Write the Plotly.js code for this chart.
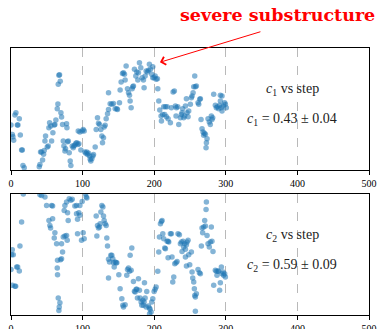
<!DOCTYPE html>
<html>
<head>
<meta charset="utf-8">
<script src="https://cdn.plot.ly/plotly-3.0.1.min.js"></script>
<style>html,body{margin:0;padding:0;background:#fff;}#chart{width:380px;height:329px;}</style>
</head>
<body>
<div id="chart"></div>
<script>
// c1 vs step (top panel), values on a normalised vertical scale
const c1Steps = [0,1.8,2.7,3.7,5.5,6.9,8.8,9.7,11.6,13.0,14.8,15.8,16.7,18.5,39.5,40.4,41.3,42.7,44.1,45.5,46.4,47.4,48.3,50.6,52.0,52.9,53.9,55.7,56.7,58.5,60.4,61.3,62.7,64.6,65.5,66.0,66.9,67.8,68.8,69.7,70.6,72.0,73.0,73.9,75.3,76.2,77.6,78.1,79.0,80.0,81.3,82.7,83.6,85.5,86.9,87.8,89.2,90.6,92.0,93.4,94.8,93.9,96.2,97.6,99.4,100.8,102.2,103.2,104.6,
105.9,106.9,108.3,109.7,110.6,111.5,112.9,114.3,115.2,117.6,119.0,120.8,122.2,123.6,125.5,126.9,127.8,129.2,130.1,131.5,132.9,134.8,136.2,136.2,138.5,140.8,143.1,145.5,147.8,148.7,151.5,152.4,153.8,155.7,157.1,158.5,159.4,160.8,162.7,164.1,165.5,166.4,167.8,169.2,170.1,171.0,172.4,174.3,175.7,177.1,178.0,179.4,181.3,183.1,185.0,185.9,187.3,188.7,190.6,192.0,193.3,194.7,196.6,198.0,199.9,201.3,202.7,204.5,
198.0,205.0,206.4,207.8,209.6,210.1,211.9,213.3,215.7,218.0,214.7,217.1,219.4,222.6,224.0,226.4,228.2,229.6,231.0,232.9,230.5,234.3,236.6,238.0,238.9,239.8,241.2,242.6,243.6,245.0,245.9,247.3,248.2,250.5,251.9,252.9,254.3,255.2,256.6,257.5,258.9,261.2,262.2,263.6,264.5,265.4,266.8,268.2,269.1,270.1,271.5,272.9,273.8,272.4,275.2,277.0,278.4,279.8,280.7,281.7,283.1,285.4,286.8,288.2,290.0,291.4,292.4,293.8,294.7,296.1,298.4,299.4,300.7,294.7,292.4];
const c1Values = [.369,.292,.273,.243,.451,.470,.369,.369,.421,.287,.164,.164,.038,.019,.027,.046,.148,.148,.082,.129,.159,.238,.279,.189,.197,.347,.388,.361,.238,.306,.369,.374,.410,.503,.541,.702,.776,.781,.727,.470,.434,.374,.238,.197,.156,.175,.380,.347,.232,.238,.142,.074,.038,.197,.183,.197,.205,.219,.224,.210,.216,.320,.312,.164,.320,.333,.320,.148,.137,
.148,.128,.137,.115,.088,.074,.093,.115,.128,.189,.333,.429,.383,.374,.333,.279,.224,.265,.353,.366,.421,.462,.497,.634,.544,.538,.546,.503,.503,.497,.552,.656,.721,.792,.798,.784,.738,.852,.667,.634,.612,.566,.511,.667,.683,.689,.825,.770,.803,.738,.798,.880,.839,.757,.738,.675,.770,.811,.803,.817,.866,.825,.784,.757,.757,.770,.743,.749,
.847,.667,.566,.492,.443,.402,.456,.519,.519,.519,.456,.437,.421,.388,.511,.639,.648,.525,.511,.519,.443,.374,.429,.456,.470,.503,.429,.443,.525,.585,.470,.437,.484,.538,.593,.607,.634,.683,.770,.683,.689,.552,.538,.579,.585,.415,.339,.312,.284,.301,.293,.224,.257,.183,.421,.393,.374,.443,.415,.429,.620,.530,.511,.519,.503,.530,.566,.511,.484,.525,.552,.538,.511,.607,.612];

// c2 vs step (bottom panel)
const c2Steps = [17.2,40.4,42.7,47.4,1.8,0.9,3.2,0,7.9,9.3,11.6,1.8,5.5,6.5,12.5,14.8,49.7,56.7,58.1,53.0,54.3,55.3,58.1,61.3,60.4,63.7,70.6,72.0,70.6,65.0,69.2,64.6,65.0,66.0,68.3,67.4,66.9,73.0,75.3,77.6,78.5,74.3,75.3,77.6,81.3,83.6,85.5,79.0,89.2,91.5,96.2,99.4,79.9,91.5,94.8,92.9,96.2,92.9,98.5,100.8,102.2,104.1,105.0,
106.0,119.0,120.8,122.2,123.6,124.5,125.5,126.9,128.3,129.2,130.1,131.5,132.9,119.9,133.8,134.8,136.2,137.6,139.4,140.8,142.2,143.1,144.1,145.5,146.9,147.8,136.2,150.6,152.4,154.8,156.2,157.1,159.4,161.7,162.7,164.1,165.5,166.4,167.8,168.7,171.0,172.4,173.4,174.8,175.7,176.6,178.0,179.4,180.3,181.7,182.7,184.1,185.0,185.9,186.4,187.3,188.7,189.6,192.0,193.3,194.3,195.7,196.6,198.0,199.9,201.3,202.7,205.0,193.5,
206.4,207.3,208.7,210.1,211.0,212.0,213.3,214.7,215.7,218.0,219.4,220.3,219.4,222.6,224.0,224.9,227.3,225.9,228.7,230.5,231.9,233.3,235.2,236.6,238.0,238.9,240.3,241.2,242.6,243.6,245.0,245.9,247.3,248.2,243.6,245.0,249.6,251.9,252.9,253.8,255.2,256.1,256.6,257.5,258.9,257.5,261.2,263.1,264.5,265.9,266.8,267.7,269.1,270.5,271.5,272.4,272.9,273.8,275.2,277.0,278.4,279.8,280.7,282.1,283.1,285.4,286.8,287.7,289.1,290.0,291.4,292.4,293.8,294.7,296.1,297.0,298.4,299.4];
const c2Values = [1.0,.994,.989,.975,.540,.499,.499,.377,.397,.397,.364,.245,.237,.237,.570,.769,.906,.906,.901,.782,.741,.719,.796,.680,.636,.589,.589,.521,.466,.452,.457,.388,.333,.140,.102,.066,.038,.645,.653,.658,.617,.865,.906,.934,.961,.948,.956,.846,.901,.906,.906,.939,.782,.838,.846,.791,.824,.672,.617,.680,.631,1.0,.975,
.967,.818,.741,.719,.727,.755,.851,.906,.893,.818,.782,.755,.741,.653,.636,.570,.460,.438,.493,.493,.466,.432,.397,.438,.432,.432,.306,.333,.218,.135,.080,.066,.085,.328,.377,.388,.361,.493,.369,.554,.278,.196,.190,.212,.212,.140,.300,.204,.140,.107,.080,.121,.080,.107,.267,.140,.066,.195,.074,.058,.047,.025,.107,.135,.195,.212,.231,.361,.010,
.521,.645,.755,.774,.782,.672,.631,.554,.548,.609,.609,.603,.474,.672,.672,.479,.314,.273,.424,.432,.443,.672,.664,.589,.603,.526,.609,.562,.589,.543,.581,.603,.617,.499,.479,.405,.416,.521,.355,.306,.273,.218,.162,.149,.176,.030,.377,.350,.342,.570,.719,.680,.727,.782,.735,.873,.934,.658,.589,.562,.603,.727,.609,.526,.245,.369,.361,.328,.364,.361,.204,.267,.397,.342,.355,.328,.342,.314];

const tickVals = [0,100,200,300,400,500];
const tickLabels = ['0','100','200','300','400','500'];
const c1Label = '<i>c</i><sub>1</sub> vs step';
const c1Result = '<i>c</i><sub>1</sub> = 0.43 ± 0.04';
const c2Label = '<i>c</i><sub>2</sub> vs step';
const c2Result = '<i>c</i><sub>2</sub> = 0.59 ± 0.09';
const calloutText = '<b>severe substructure</b>';

const serif = 'Liberation Serif, DejaVu Serif, serif';
const marker = {color: 'rgba(31,119,180,0.55)', size: 5.5, line: {width: 0}};

const traces = [
  {x: c1Steps, y: c1Values, type: 'scatter', mode: 'markers', marker: marker, xaxis: 'x', yaxis: 'y', hoverinfo: 'skip'},
  {x: c2Steps, y: c2Values, type: 'scatter', mode: 'markers', marker: marker, xaxis: 'x2', yaxis: 'y2', hoverinfo: 'skip'}
];

function xax(anchor) {
  return {
    anchor: anchor, range: [0, 500], tickmode: 'array', tickvals: tickVals, ticktext: tickLabels,
    ticks: 'outside', ticklen: 4, tickwidth: 1, tickcolor: '#000',
    showline: true, linecolor: '#000', linewidth: 1.3, mirror: true,
    showgrid: true, gridcolor: '#a8a8a8', griddash: 'dash', gridwidth: 0.8,
    zeroline: false, automargin: false,
    tickfont: {family: serif, size: 10, color: '#000'}
  };
}
function yax(anchor, domain) {
  return {
    anchor: anchor, domain: domain, range: [0, 1], showticklabels: false, ticks: '',
    showline: true, linecolor: '#000', linewidth: 1.3, mirror: true,
    showgrid: false, zeroline: false, automargin: false
  };
}

const layout = {
  width: 380, height: 329,
  margin: {l: 11, r: 11, t: 48, b: 14},
  paper_bgcolor: '#fff', plot_bgcolor: '#fff',
  showlegend: false,
  xaxis: xax('y'),
  yaxis: yax('x', [0.543, 1]),
  xaxis2: xax('y2'),
  yaxis2: yax('x2', [0, 0.453]),
  annotations: [
    {xref: 'x', yref: 'y', x: 393, y: 0.656, text: c1Label, showarrow: false, font: {family: serif, size: 14, color: '#222'}},
    {xref: 'x', yref: 'y', x: 393, y: 0.41, text: c1Result, showarrow: false, font: {family: serif, size: 14, color: '#222'}},
    {xref: 'x2', yref: 'y2', x: 393, y: 0.661, text: c2Label, showarrow: false, font: {family: serif, size: 14, color: '#222'}},
    {xref: 'x2', yref: 'y2', x: 393, y: 0.413, text: c2Result, showarrow: false, font: {family: serif, size: 14, color: '#222'}},
    {xref: 'paper', yref: 'paper', x: 0.744, y: 1.122, xanchor: 'center', yanchor: 'middle', text: calloutText, showarrow: false,
     font: {family: 'DejaVu Serif, serif', size: 17.5, color: '#ff0000'}},
    {xref: 'x', yref: 'y', x: 208, y: 0.883, text: '', showarrow: true, ax: 102, ay: -31,
     arrowcolor: '#ff0000', arrowwidth: 1, arrowhead: 4, arrowsize: 1.6}
  ]
};

Plotly.newPlot('chart', traces, layout, {staticPlot: true, displayModeBar: false});
</script>
</body>
</html>
